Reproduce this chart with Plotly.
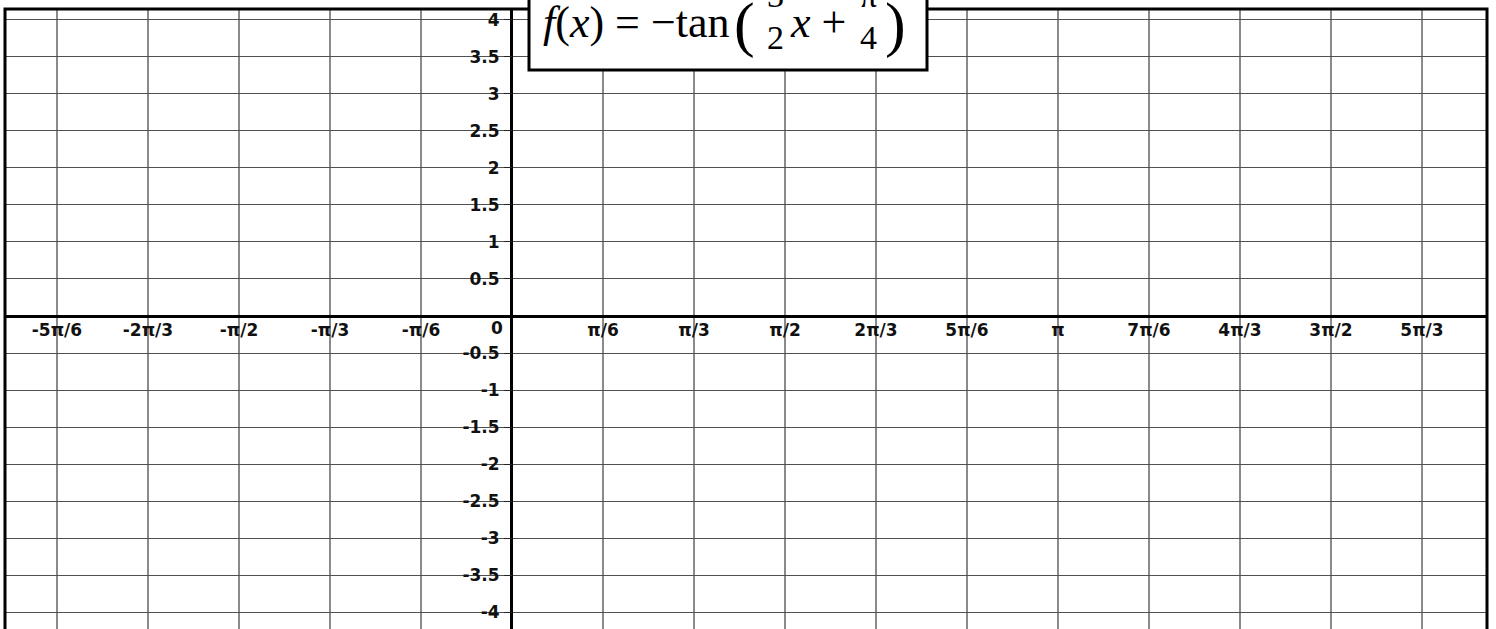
import plotly.graph_objects as go
import numpy as np

# x ticks in multiples of pi/6
x_multiples = [-5, -4, -3, -2, -1, 1, 2, 3, 4, 5, 6, 7, 8, 9, 10]
x_tick_text = ["-5π/6", "-2π/3", "-π/2", "-π/3", "-π/6",
               "π/6", "π/3", "π/2", "2π/3", "5π/6", "π",
               "7π/6", "4π/3", "3π/2", "5π/3"]
x_tick_vals = [m * np.pi / 6 for m in x_multiples]

y_tick_vals = [-4, -3.5, -3, -2.5, -2, -1.5, -1, -0.5,
               0.5, 1, 1.5, 2, 2.5, 3, 3.5, 4]
y_tick_text = ["-4", "-3.5", "-3", "-2.5", "-2", "-1.5", "-1", "-0.5",
               "0.5", "1", "1.5", "2", "2.5", "3", "3.5", "4"]

X_RANGE = [-2.917, 5.610]
Y_RANGE = [-4.224, 4.143]

W, H = 1496, 629
PLOT_L, PLOT_T, PLOT_R, PLOT_B = 5, 9, 1487, 629


def px(x):
    return (x - PLOT_L) / (PLOT_R - PLOT_L)


def py(y):
    return (PLOT_B - y) / (PLOT_B - PLOT_T)


label_font = dict(family="DejaVu Sans", size=17, color="#111", weight="bold")
serif = "Liberation Serif"

fig = go.Figure()

fig.update_layout(
    width=W,
    height=H,
    margin=dict(l=PLOT_L, r=W - PLOT_R, t=PLOT_T, b=H - PLOT_B, autoexpand=False),
    paper_bgcolor="white",
    plot_bgcolor="white",
    showlegend=False,
)

fig.update_xaxes(
    range=X_RANGE,
    tickmode="array",
    tickvals=x_tick_vals,
    ticktext=x_tick_text,
    tickfont=label_font,
    showgrid=True,
    gridcolor="#8a8a8a",
    gridwidth=2,
    zeroline=True,
    zerolinecolor="black",
    zerolinewidth=3,
    showline=False,
    ticks="",
    anchor="free",
    position=(0 - Y_RANGE[0]) / (Y_RANGE[1] - Y_RANGE[0]),
    ticklabelstandoff=2,
    automargin=False,
    fixedrange=True,
)

fig.update_yaxes(
    range=Y_RANGE,
    tickmode="array",
    tickvals=y_tick_vals,
    ticktext=y_tick_text,
    tickfont=label_font,
    showgrid=True,
    gridcolor="#505050",
    gridwidth=1,
    zeroline=True,
    zerolinecolor="black",
    zerolinewidth=3,
    showline=False,
    ticks="outside",
    ticklen=8,
    tickwidth=1,
    tickcolor="#222",
    anchor="free",
    position=(0 - X_RANGE[0]) / (X_RANGE[1] - X_RANGE[0]),
    ticklabelstandoff=1,
    automargin=False,
    fixedrange=True,
)

# frame around the graph
fig.add_shape(type="rect", xref="paper", yref="paper",
              x0=0, x1=1, y0=-0.1, y1=1,
              line=dict(color="black", width=3), fillcolor="rgba(0,0,0,0)")

# formula box
fig.add_shape(type="rect", xref="paper", yref="paper",
              x0=px(529), x1=px(927), y0=py(70), y1=py(-30),
              line=dict(color="black", width=3), fillcolor="white", layer="above")

# origin label
fig.add_annotation(text="0", xref="paper", yref="paper", x=px(505), y=py(328),
                   xanchor="right", yanchor="middle", showarrow=False, font=label_font)


def formula_text(text, x, y, size, anchor="left"):
    fig.add_annotation(text=text, xref="paper", yref="paper", x=px(x), y=py(y),
                       xanchor=anchor, yanchor="middle", showarrow=False,
                       font=dict(family=serif, size=size, color="black"))


formula_text("<i>f</i>(<i>x</i>) = −tan", 541, 22, 44)
formula_text("(", 744, 25, 62, "center")
formula_text("3", 775, -4, 34, "center")
formula_text("2", 775, 37, 34, "center")
formula_text("<i>x</i> +", 788, 22, 44)
formula_text("π", 868, -4, 34, "center")
formula_text("4", 868, 37, 34, "center")
formula_text(")", 896, 25, 62, "center")

fig.write_html("out.html", config={"displayModeBar": False},
               post_script="document.body.style.margin='0';")
